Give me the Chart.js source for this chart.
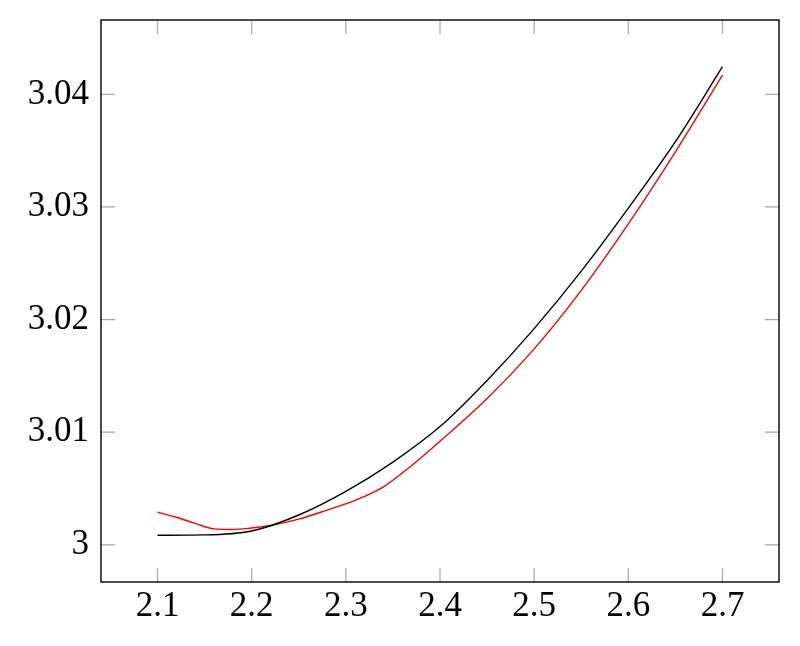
<!DOCTYPE html>
<html>
<head>
<meta charset="utf-8">
<script src="https://cdn.jsdelivr.net/npm/chart.js@4.4.1/dist/chart.umd.min.js"></script>
<style>
  body { margin: 0; background: #fff; }
  #wrap { width: 800px; height: 646px; }
</style>
</head>
<body>
<div id="wrap"><canvas id="grafico"></canvas></div>
<script>
// datos
const xNegro = [2.10, 2.15, 2.20, 2.25, 2.30, 2.35, 2.40, 2.45, 2.50, 2.55, 2.60, 2.65, 2.70];
const yNegro = [3.00085, 3.00088, 3.00123, 3.00265, 3.00475, 3.00735, 3.01050, 3.01460, 3.01920, 3.02430, 3.02990, 3.03580, 3.04245];

const xRojo = [2.10, 2.12, 2.14, 2.16, 2.18, 2.20, 2.22, 2.25, 2.28, 2.31, 2.34, 2.37, 2.40, 2.45, 2.50, 2.55, 2.60, 2.65, 2.70];
const yRojo = [3.00290, 3.00245, 3.00190, 3.00142, 3.00136, 3.00150, 3.00172, 3.00228, 3.00308, 3.00395, 3.00515, 3.00705, 3.00920, 3.01300, 3.01740, 3.02260, 3.02850, 3.03490, 3.04170];

const ticksX = [2.1, 2.2, 2.3, 2.4, 2.5, 2.6, 2.7];
const ticksY = [3, 3.01, 3.02, 3.03, 3.04];

const puntos = (xs, ys) => xs.map((x, i) => ({ x: x, y: ys[i] }));

// marco y marcas hacia adentro, como en pgfplots
const marcoPlugin = {
  id: 'marco',
  afterDraw(chart) {
    const { ctx, chartArea: a, scales } = chart;
    const largo = 14;
    ctx.save();
    ctx.strokeStyle = '#a8a8a8';
    ctx.lineWidth = 1.2;
    ctx.beginPath();
    scales.x.ticks.forEach(t => {
      const px = scales.x.getPixelForValue(t.value);
      ctx.moveTo(px, a.bottom); ctx.lineTo(px, a.bottom - largo);
      ctx.moveTo(px, a.top); ctx.lineTo(px, a.top + largo);
    });
    scales.y.ticks.forEach(t => {
      const py = scales.y.getPixelForValue(t.value);
      ctx.moveTo(a.left, py); ctx.lineTo(a.left + largo, py);
      ctx.moveTo(a.right, py); ctx.lineTo(a.right - largo, py);
    });
    ctx.stroke();
    ctx.strokeStyle = '#000';
    ctx.lineWidth = 1.4;
    ctx.strokeRect(a.left, a.top, a.right - a.left, a.bottom - a.top);
    ctx.restore();
  }
};

const fuente = { family: '"Liberation Serif", "DejaVu Serif", serif', size: 35 };

new Chart(document.getElementById('grafico'), {
  type: 'line',
  data: {
    datasets: [
      {
        data: puntos(xNegro, yNegro),
        borderColor: '#000000',
        borderWidth: 1.4,
        pointRadius: 0,
        cubicInterpolationMode: 'monotone'
      },
      {
        data: puntos(xRojo, yRojo),
        borderColor: '#ff0000',
        borderWidth: 1.4,
        pointRadius: 0,
        cubicInterpolationMode: 'monotone'
      }
    ]
  },
  plugins: [marcoPlugin],
  options: {
    responsive: true,
    maintainAspectRatio: false,
    animation: false,
    layout: { padding: { top: 20, right: 21, left: 0, bottom: 0 } },
    plugins: { legend: { display: false }, tooltip: { enabled: false } },
    scales: {
      x: {
        type: 'linear',
        min: 2.04,
        max: 2.76,
        afterBuildTicks: s => { s.ticks = ticksX.map(v => ({ value: v })); },
        afterFit: s => { s.height = 64; s.paddingLeft = 0; s.paddingRight = 0; },
        grid: { display: false, drawTicks: false },
        border: { display: false },
        ticks: { color: '#000', font: fuente, padding: 4, maxRotation: 0, callback: v => String(v) }
      },
      y: {
        type: 'linear',
        min: 2.9967,
        max: 3.0466,
        afterBuildTicks: s => { s.ticks = ticksY.map(v => ({ value: v })); },
        afterFit: s => { s.width = 101; s.paddingTop = 0; s.paddingBottom = 0; },
        grid: { display: false, drawTicks: false },
        border: { display: false },
        ticks: { color: '#000', font: fuente, padding: 12, callback: v => String(v) }
      }
    }
  }
});
</script>
</body>
</html>
